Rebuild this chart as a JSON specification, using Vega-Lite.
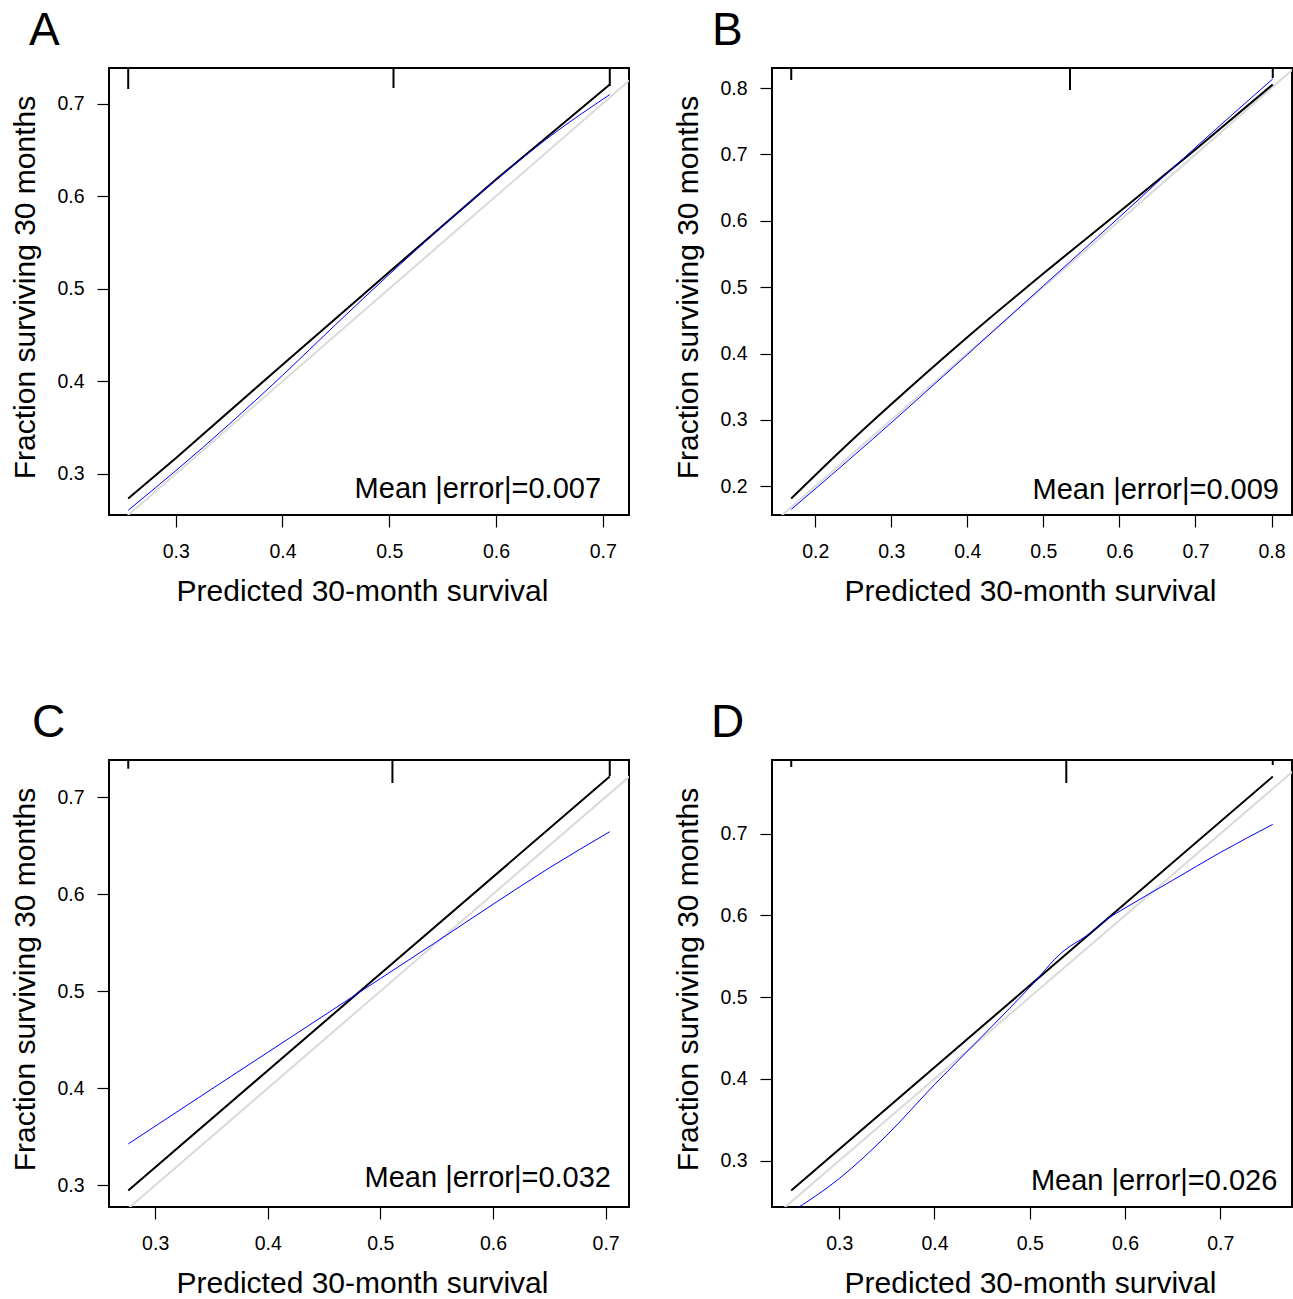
{
  "$schema": "https://vega.github.io/schema/vega-lite/v6.json",
  "background": "white",
  "padding": {"left": 9, "top": 7, "right": 0, "bottom": 0},
  "columns": 2,
  "spacing": {"row": 245, "column": 143},
  "bounds": "flush",
  "datasets": {
    "diag": [{"x": 0, "y": 0}, {"x": 1, "y": 1}],
    "lines": [
      {"panel": "A", "series": "black", "x": 0.2555, "y": 0.2735},
      {"panel": "A", "series": "black", "x": 0.3, "y": 0.317},
      {"panel": "A", "series": "black", "x": 0.4, "y": 0.418},
      {"panel": "A", "series": "black", "x": 0.5, "y": 0.518},
      {"panel": "A", "series": "black", "x": 0.6, "y": 0.618},
      {"panel": "A", "series": "black", "x": 0.7066, "y": 0.7205},
      {"panel": "A", "series": "blue", "x": 0.2555, "y": 0.2607},
      {"panel": "A", "series": "blue", "x": 0.3, "y": 0.3034},
      {"panel": "A", "series": "blue", "x": 0.35, "y": 0.3535},
      {"panel": "A", "series": "blue", "x": 0.4, "y": 0.4064},
      {"panel": "A", "series": "blue", "x": 0.45, "y": 0.4615},
      {"panel": "A", "series": "blue", "x": 0.5, "y": 0.5155},
      {"panel": "A", "series": "blue", "x": 0.55, "y": 0.5675},
      {"panel": "A", "series": "blue", "x": 0.6, "y": 0.6175},
      {"panel": "A", "series": "blue", "x": 0.65, "y": 0.664},
      {"panel": "A", "series": "blue", "x": 0.7066, "y": 0.7097},
      {"panel": "B", "series": "black", "x": 0.1685, "y": 0.1816},
      {"panel": "B", "series": "black", "x": 0.2, "y": 0.2167},
      {"panel": "B", "series": "black", "x": 0.25, "y": 0.2712},
      {"panel": "B", "series": "black", "x": 0.3, "y": 0.3235},
      {"panel": "B", "series": "black", "x": 0.4, "y": 0.4245},
      {"panel": "B", "series": "black", "x": 0.5, "y": 0.5205},
      {"panel": "B", "series": "black", "x": 0.6, "y": 0.6135},
      {"panel": "B", "series": "black", "x": 0.7, "y": 0.7075},
      {"panel": "B", "series": "black", "x": 0.8016, "y": 0.8053},
      {"panel": "B", "series": "blue", "x": 0.1685, "y": 0.165},
      {"panel": "B", "series": "blue", "x": 0.2751, "y": 0.2705},
      {"panel": "B", "series": "blue", "x": 0.4, "y": 0.3985},
      {"panel": "B", "series": "blue", "x": 0.5, "y": 0.502},
      {"panel": "B", "series": "blue", "x": 0.6, "y": 0.6055},
      {"panel": "B", "series": "blue", "x": 0.7, "y": 0.7105},
      {"panel": "B", "series": "blue", "x": 0.8016, "y": 0.8137},
      {"panel": "C", "series": "black", "x": 0.2761, "y": 0.2947},
      {"panel": "C", "series": "black", "x": 0.5, "y": 0.518},
      {"panel": "C", "series": "black", "x": 0.7037, "y": 0.7211},
      {"panel": "C", "series": "blue", "x": 0.2761, "y": 0.3426},
      {"panel": "C", "series": "blue", "x": 0.35, "y": 0.399},
      {"panel": "C", "series": "blue", "x": 0.4, "y": 0.437},
      {"panel": "C", "series": "blue", "x": 0.45, "y": 0.475},
      {"panel": "C", "series": "blue", "x": 0.5, "y": 0.513},
      {"panel": "C", "series": "blue", "x": 0.55, "y": 0.551},
      {"panel": "C", "series": "blue", "x": 0.6, "y": 0.5895},
      {"panel": "C", "series": "blue", "x": 0.65, "y": 0.627},
      {"panel": "C", "series": "blue", "x": 0.7037, "y": 0.6643},
      {"panel": "D", "series": "black", "x": 0.2496, "y": 0.2635},
      {"panel": "D", "series": "black", "x": 0.5, "y": 0.5143},
      {"panel": "D", "series": "black", "x": 0.7552, "y": 0.77},
      {"panel": "D", "series": "blue", "x": 0.2496, "y": 0.237},
      {"panel": "D", "series": "blue", "x": 0.3, "y": 0.278},
      {"panel": "D", "series": "blue", "x": 0.35, "y": 0.331},
      {"panel": "D", "series": "blue", "x": 0.4, "y": 0.393},
      {"panel": "D", "series": "blue", "x": 0.45, "y": 0.452},
      {"panel": "D", "series": "blue", "x": 0.5, "y": 0.512},
      {"panel": "D", "series": "blue", "x": 0.535, "y": 0.556},
      {"panel": "D", "series": "blue", "x": 0.56, "y": 0.5755},
      {"panel": "D", "series": "blue", "x": 0.58, "y": 0.5945},
      {"panel": "D", "series": "blue", "x": 0.6, "y": 0.609},
      {"panel": "D", "series": "blue", "x": 0.65, "y": 0.643},
      {"panel": "D", "series": "blue", "x": 0.7, "y": 0.677},
      {"panel": "D", "series": "blue", "x": 0.7552, "y": 0.7115}
    ],
    "rug": [
      {"panel": "A", "x": 0.2555, "yend": 0.7157},
      {"panel": "A", "x": 0.504, "yend": 0.7168},
      {"panel": "A", "x": 0.7066, "yend": 0.719},
      {"panel": "B", "x": 0.1685, "yend": 0.8121},
      {"panel": "B", "x": 0.535, "yend": 0.7971},
      {"panel": "B", "x": 0.8016, "yend": 0.8151},
      {"panel": "C", "x": 0.2761, "yend": 0.7292},
      {"panel": "C", "x": 0.5107, "yend": 0.7145},
      {"panel": "C", "x": 0.7037, "yend": 0.7217},
      {"panel": "D", "x": 0.2496, "yend": 0.7817},
      {"panel": "D", "x": 0.5384, "yend": 0.7621},
      {"panel": "D", "x": 0.7552, "yend": 0.7842}
    ],
    "labels": [
      {"panel": "A", "label": "Mean |error|=0.007"},
      {"panel": "B", "label": "Mean |error|=0.009"},
      {"panel": "C", "label": "Mean |error|=0.032"},
      {"panel": "D", "label": "Mean |error|=0.026"}
    ]
  },
  "concat": [
    {
      "width": 520, "height": 447,
      "title": {"text": "A", "anchor": "start", "frame": "group", "dx": -80, "fontSize": 46, "fontWeight": "normal", "baseline": "alphabetic", "offset": -24, "color": "black"},
      "layer": [
        {"data": {"name": "diag"}, "mark": {"type": "line", "color": "#dadada", "strokeWidth": 2, "clip": true},
         "encoding": {
           "x": {"field": "x", "type": "quantitative", "scale": {"domain": [0.2375, 0.7246], "nice": false, "zero": false}, "axis": {"title": "Predicted 30-month survival", "titleX": 253, "values": [0.3, 0.4, 0.5, 0.6, 0.7], "format": ".1f"}},
           "y": {"field": "y", "type": "quantitative", "scale": {"domain": [0.2556, 0.7384], "nice": false, "zero": false}, "axis": {"title": "Fraction surviving 30 months", "titleY": 219, "values": [0.3, 0.4, 0.5, 0.6, 0.7], "format": ".1f"}}}},
        {"data": {"name": "lines"}, "transform": [{"filter": "datum.panel == 'A' && datum.series == 'black'"}], "mark": {"type": "line", "color": "black", "strokeWidth": 2, "clip": true},
         "encoding": {"x": {"field": "x", "type": "quantitative"}, "y": {"field": "y", "type": "quantitative"}}},
        {"data": {"name": "lines"}, "transform": [{"filter": "datum.panel == 'A' && datum.series == 'blue'"}], "mark": {"type": "line", "color": "blue", "strokeWidth": 1, "clip": true, "interpolate": "monotone"},
         "encoding": {"x": {"field": "x", "type": "quantitative"}, "y": {"field": "y", "type": "quantitative"}}},
        {"data": {"name": "rug"}, "transform": [{"filter": "datum.panel == 'A'"}], "mark": {"type": "rule", "color": "black", "strokeWidth": 2},
         "encoding": {"x": {"field": "x", "type": "quantitative"}, "y": {"field": "yend", "type": "quantitative"}, "y2": {"datum": 0.7384}}},
        {"data": {"name": "labels"}, "transform": [{"filter": "datum.panel == 'A'"}], "mark": {"type": "text", "align": "right", "baseline": "alphabetic", "fontSize": 29, "font": "Liberation Sans", "color": "black"},
         "encoding": {"x": {"datum": 0.6984, "type": "quantitative"}, "y": {"datum": 0.274, "type": "quantitative"}, "text": {"field": "label"}}}
      ]
    },
    {
      "width": 520, "height": 447,
      "title": {"text": "B", "anchor": "start", "frame": "group", "dx": -60, "fontSize": 46, "fontWeight": "normal", "baseline": "alphabetic", "offset": -24, "color": "black"},
      "layer": [
        {"data": {"name": "diag"}, "mark": {"type": "line", "color": "#dadada", "strokeWidth": 2, "clip": true},
         "encoding": {
           "x": {"field": "x", "type": "quantitative", "scale": {"domain": [0.1432, 0.8269], "nice": false, "zero": false}, "axis": {"title": "Predicted 30-month survival", "titleX": 258, "values": [0.2, 0.3, 0.4, 0.5, 0.6, 0.7, 0.8], "format": ".1f"}},
           "y": {"field": "y", "type": "quantitative", "scale": {"domain": [0.1567, 0.8302], "nice": false, "zero": false}, "axis": {"title": "Fraction surviving 30 months", "titleY": 219, "values": [0.2, 0.3, 0.4, 0.5, 0.6, 0.7, 0.8], "format": ".1f"}}}},
        {"data": {"name": "lines"}, "transform": [{"filter": "datum.panel == 'B' && datum.series == 'black'"}], "mark": {"type": "line", "color": "black", "strokeWidth": 2, "clip": true, "interpolate": "monotone"},
         "encoding": {"x": {"field": "x", "type": "quantitative"}, "y": {"field": "y", "type": "quantitative"}}},
        {"data": {"name": "lines"}, "transform": [{"filter": "datum.panel == 'B' && datum.series == 'blue'"}], "mark": {"type": "line", "color": "blue", "strokeWidth": 1, "clip": true, "interpolate": "monotone"},
         "encoding": {"x": {"field": "x", "type": "quantitative"}, "y": {"field": "y", "type": "quantitative"}}},
        {"data": {"name": "rug"}, "transform": [{"filter": "datum.panel == 'B'"}], "mark": {"type": "rule", "color": "black", "strokeWidth": 2},
         "encoding": {"x": {"field": "x", "type": "quantitative"}, "y": {"field": "yend", "type": "quantitative"}, "y2": {"datum": 0.8302}}},
        {"data": {"name": "labels"}, "transform": [{"filter": "datum.panel == 'B'"}], "mark": {"type": "text", "align": "right", "baseline": "alphabetic", "fontSize": 29, "font": "Liberation Sans", "color": "black"},
         "encoding": {"x": {"datum": 0.8098, "type": "quantitative"}, "y": {"datum": 0.1808, "type": "quantitative"}, "text": {"field": "label"}}}
      ]
    },
    {
      "width": 520, "height": 447,
      "title": {"text": "C", "anchor": "start", "frame": "group", "dx": -77, "fontSize": 46, "fontWeight": "normal", "baseline": "alphabetic", "offset": -24, "color": "black"},
      "layer": [
        {"data": {"name": "diag"}, "mark": {"type": "line", "color": "#dadada", "strokeWidth": 2, "clip": true},
         "encoding": {
           "x": {"field": "x", "type": "quantitative", "scale": {"domain": [0.259, 0.7208], "nice": false, "zero": false}, "axis": {"title": "Predicted 30-month survival", "titleX": 253, "values": [0.3, 0.4, 0.5, 0.6, 0.7], "format": ".1f"}},
           "y": {"field": "y", "type": "quantitative", "scale": {"domain": [0.2776, 0.7382], "nice": false, "zero": false}, "axis": {"title": "Fraction surviving 30 months", "titleY": 219, "values": [0.3, 0.4, 0.5, 0.6, 0.7], "format": ".1f"}}}},
        {"data": {"name": "lines"}, "transform": [{"filter": "datum.panel == 'C' && datum.series == 'black'"}], "mark": {"type": "line", "color": "black", "strokeWidth": 2, "clip": true},
         "encoding": {"x": {"field": "x", "type": "quantitative"}, "y": {"field": "y", "type": "quantitative"}}},
        {"data": {"name": "lines"}, "transform": [{"filter": "datum.panel == 'C' && datum.series == 'blue'"}], "mark": {"type": "line", "color": "blue", "strokeWidth": 1, "clip": true, "interpolate": "monotone"},
         "encoding": {"x": {"field": "x", "type": "quantitative"}, "y": {"field": "y", "type": "quantitative"}}},
        {"data": {"name": "rug"}, "transform": [{"filter": "datum.panel == 'C'"}], "mark": {"type": "rule", "color": "black", "strokeWidth": 2},
         "encoding": {"x": {"field": "x", "type": "quantitative"}, "y": {"field": "yend", "type": "quantitative"}, "y2": {"datum": 0.7382}}},
        {"data": {"name": "labels"}, "transform": [{"filter": "datum.panel == 'C'"}], "mark": {"type": "text", "align": "right", "baseline": "alphabetic", "fontSize": 29, "font": "Liberation Sans", "color": "black"},
         "encoding": {"x": {"datum": 0.7048, "type": "quantitative"}, "y": {"datum": 0.2977, "type": "quantitative"}, "text": {"field": "label"}}}
      ]
    },
    {
      "width": 520, "height": 447,
      "title": {"text": "D", "anchor": "start", "frame": "group", "dx": -61, "fontSize": 46, "fontWeight": "normal", "baseline": "alphabetic", "offset": -24, "color": "black"},
      "layer": [
        {"data": {"name": "diag"}, "mark": {"type": "line", "color": "#dadada", "strokeWidth": 2, "clip": true},
         "encoding": {
           "x": {"field": "x", "type": "quantitative", "scale": {"domain": [0.2294, 0.7754], "nice": false, "zero": false}, "axis": {"title": "Predicted 30-month survival", "titleX": 258, "values": [0.3, 0.4, 0.5, 0.6, 0.7], "format": ".1f"}},
           "y": {"field": "y", "type": "quantitative", "scale": {"domain": [0.2432, 0.7903], "nice": false, "zero": false}, "axis": {"title": "Fraction surviving 30 months", "titleY": 219, "values": [0.3, 0.4, 0.5, 0.6, 0.7], "format": ".1f"}}}},
        {"data": {"name": "lines"}, "transform": [{"filter": "datum.panel == 'D' && datum.series == 'black'"}], "mark": {"type": "line", "color": "black", "strokeWidth": 2, "clip": true},
         "encoding": {"x": {"field": "x", "type": "quantitative"}, "y": {"field": "y", "type": "quantitative"}}},
        {"data": {"name": "lines"}, "transform": [{"filter": "datum.panel == 'D' && datum.series == 'blue'"}], "mark": {"type": "line", "color": "blue", "strokeWidth": 1, "clip": true, "interpolate": "monotone"},
         "encoding": {"x": {"field": "x", "type": "quantitative"}, "y": {"field": "y", "type": "quantitative"}}},
        {"data": {"name": "rug"}, "transform": [{"filter": "datum.panel == 'D'"}], "mark": {"type": "rule", "color": "black", "strokeWidth": 2},
         "encoding": {"x": {"field": "x", "type": "quantitative"}, "y": {"field": "yend", "type": "quantitative"}, "y2": {"datum": 0.7903}}},
        {"data": {"name": "labels"}, "transform": [{"filter": "datum.panel == 'D'"}], "mark": {"type": "text", "align": "right", "baseline": "alphabetic", "fontSize": 29, "font": "Liberation Sans", "color": "black"},
         "encoding": {"x": {"datum": 0.7600, "type": "quantitative"}, "y": {"datum": 0.2646, "type": "quantitative"}, "text": {"field": "label"}}}
      ]
    }
  ],
  "config": {
    "font": "Liberation Sans",
    "view": {"stroke": "black", "strokeWidth": 2},
    "axis": {"grid": false, "domain": false, "tickColor": "black", "tickSize": 12, "tickWidth": 1.2,
             "labelFont": "Liberation Sans", "labelFontSize": 19.5, "labelColor": "black",
             "titleFont": "Liberation Sans", "titleFontSize": 30, "titleFontWeight": "normal", "titleColor": "black"},
    "axisX": {"labelPadding": 15, "titlePadding": 16},
    "axisY": {"labelPadding": 13, "titlePadding": 16, "labelAngle": 0}
  }
}
